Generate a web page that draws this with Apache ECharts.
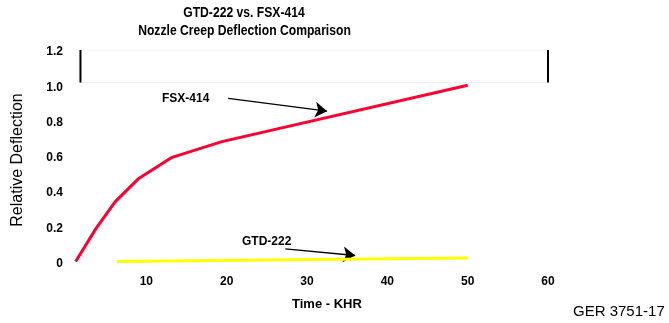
<!DOCTYPE html>
<html>
<head>
<meta charset="utf-8">
<script src="https://cdn.jsdelivr.net/npm/echarts@6/dist/echarts.min.js"></script>
<style>
html,body{margin:0;padding:0;background:#fff;}
#chart{width:669px;height:323px;}
</style>
</head>
<body>
<div id="chart"></div>
<script>
// Data
var fsx414 = [[1.2, 0], [3.7, 0.185], [6.1, 0.338], [9.0, 0.469], [13.1, 0.589], [19.4, 0.68], [50, 1.0]];
var gtd222 = [[6.3, 0], [50, 0.02]];
var xTicks = [10, 20, 30, 40, 50, 60];
var yTicks = [0, 0.2, 0.4, 0.6, 0.8, 1.0, 1.2];
var boxLeft = [[1.8, 1.015], [1.8, 1.2]];
var boxRight = [[60, 1.015], [60, 1.2]];
var boxTop = [[1.8, 1.2], [60, 1.2]];
var boxBottom = [[1.8, 1.015], [60, 1.015]];
var fsxArrow = [[20.2, 0.925], [32.5, 0.853]];
var gtdArrow = [[27.3, 0.072], [36.0, 0.034]];

var chart = echarts.init(document.getElementById('chart'), null, {renderer: 'canvas'});
var font = 'Liberation Sans, Arial, sans-serif';
var option = {
  backgroundColor: '#ffffff',
  animation: false,
  grid: {left: 66, right: 121, top: 50, bottom: 61.5, containLabel: false},
  xAxis: {
    type: 'value', min: 0, max: 60, interval: 10,
    axisLine: {show: false}, axisTick: {show: false}, splitLine: {show: false},
    axisLabel: {fontFamily: font, fontSize: 12, fontWeight: 'bold', color: '#000', margin: 14,
      formatter: function (v) { return xTicks.indexOf(v) >= 0 ? String(v) : ''; }}
  },
  yAxis: {
    type: 'value', min: 0, max: 1.2, interval: 0.2,
    axisLine: {show: false}, axisTick: {show: false}, splitLine: {show: false},
    axisLabel: {color: '#000', margin: 3,
      formatter: function (v) {
        var r = Math.round(v * 10) / 10;
        var s = r === 0 ? '0' : r.toFixed(1);
        return '{a|' + s + '}';
      },
      rich: {a: {fontFamily: font, fontSize: 12, fontWeight: 'bold', color: '#000', padding: [4, 0, 0, 0]}}
    }
  },
  series: [
    {type: 'line', data: boxTop, symbol: 'none', lineStyle: {color: '#eeeeee', width: 1}, silent: true},
    {type: 'line', data: boxBottom, symbol: 'none', lineStyle: {color: '#eeeeee', width: 1}, silent: true},
    {type: 'line', data: boxLeft, symbol: 'none', lineStyle: {color: '#000', width: 2}, silent: true},
    {type: 'line', data: boxRight, symbol: 'none', lineStyle: {color: '#000', width: 2}, silent: true},
    {name: 'FSX-414', type: 'line', data: fsx414, symbol: 'none', lineStyle: {color: '#ff0033', width: 3}},
    {name: 'GTD-222', type: 'line', data: gtd222, symbol: 'none', lineStyle: {color: '#ffff00', width: 3}},
    {type: 'lines', coordinateSystem: 'cartesian2d', silent: true,
     symbol: ['none', 'arrow'], symbolSize: 12,
     lineStyle: {color: '#000', width: 1.3, opacity: 1},
     data: [{coords: fsxArrow}, {coords: gtdArrow}]}
  ],
  graphic: [
    {type: 'text', x: 244, y: 12.5, scaleX: 0.81,
     style: {text: 'GTD-222 vs. FSX-414', font: 'bold 15px ' + font, fill: '#000', align: 'center', verticalAlign: 'middle'}},
    {type: 'text', x: 244.5, y: 31, scaleX: 0.81,
     style: {text: 'Nozzle Creep Deflection Comparison', font: 'bold 15px ' + font, fill: '#000', align: 'center', verticalAlign: 'middle'}},
    {type: 'text', x: 18, y: 160, rotation: Math.PI / 2,
     style: {text: 'Relative Deflection', font: '16px ' + font, fill: '#000', align: 'center', verticalAlign: 'middle'}},
    {type: 'text', left: 162, top: 93,
     style: {text: 'FSX-414', font: 'bold 12px ' + font, fill: '#000'}},
    {type: 'text', left: 242, top: 236,
     style: {text: 'GTD-222', font: 'bold 12px ' + font, fill: '#000'}},
    {type: 'text', left: 292, top: 298,
     style: {text: 'Time - KHR', font: 'bold 13px ' + font, fill: '#000'}},
    {type: 'text', left: 573, top: 304,
     style: {text: 'GER 3751-17', font: '15px ' + font, fill: '#000'}}
  ]
};
chart.setOption(option);
</script>
</body>
</html>
